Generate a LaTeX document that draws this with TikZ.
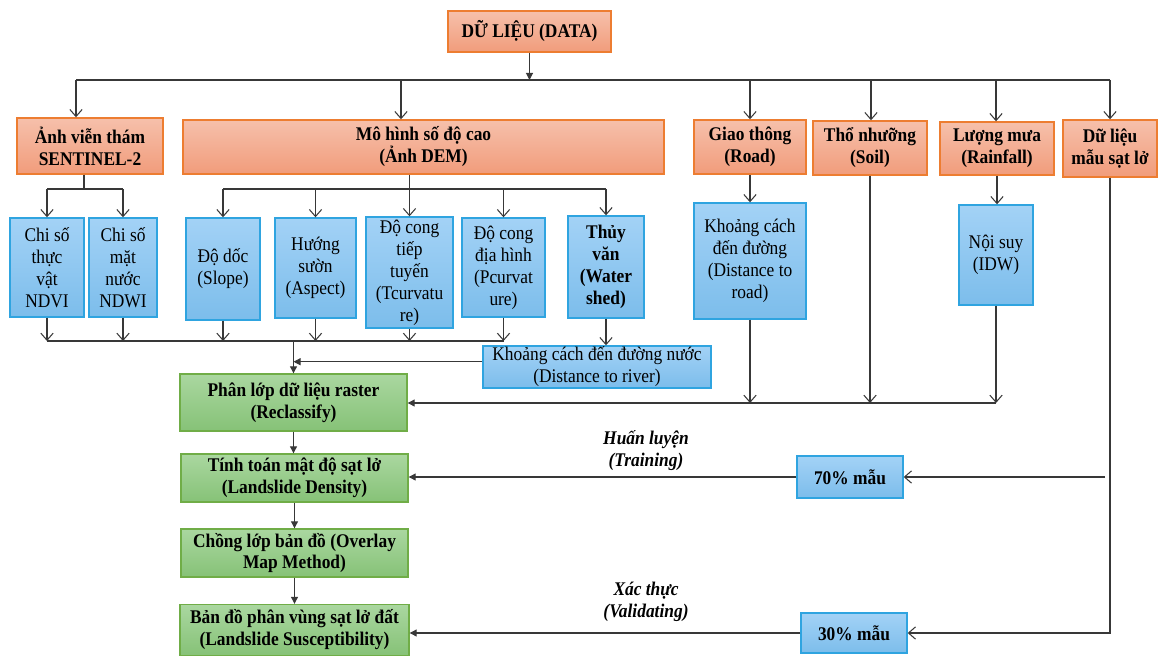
\documentclass[tikz,border=0pt]{standalone}
\usepackage{fontspec}
\setmainfont{Liberation Serif}[FakeStretch=0.9]
\usetikzlibrary{arrows.meta}

\definecolor{orangeline}{HTML}{ED7D31}
\definecolor{orangetop}{HTML}{F6C0AB}
\definecolor{orangebot}{HTML}{F19C7B}
\definecolor{blueline}{HTML}{2FA4E0}
\definecolor{bluetop}{HTML}{A3D2F6}
\definecolor{bluebot}{HTML}{7CBDEB}
\definecolor{greenline}{HTML}{70AD47}
\definecolor{greentop}{HTML}{AAD7A0}
\definecolor{greenbot}{HTML}{86C277}

\begin{document}
\begin{tikzpicture}[x=0.02cm,y=-0.02cm,
    font=\fontsize{11}{12.5}\selectfont,
    every node/.style={align=center,inner sep=0pt,line width=0.8pt},
    orangebox/.style={draw=orangeline,top color=orangetop,bottom color=orangebot,font=\fontsize{11}{12.5}\selectfont\bfseries},
    bluebox/.style={draw=blueline,top color=bluetop,bottom color=bluebot},
    greenbox/.style={draw=greenline,top color=greentop,bottom color=greenbot,font=\fontsize{11}{12.5}\selectfont\bfseries,minimum width=4.54cm},
    lbl/.style={font=\fontsize{11}{12.5}\selectfont\bfseries\itshape},
    line/.style={draw=black!78,line width=0.6pt},
    open/.style={-{Straight Barb[length=4pt,width=7pt]}},
    filltip/.style={-{Triangle[length=4pt,width=4pt]}}]
    \useasboundingbox (0,0) rectangle (1158,655);

    % top level
    \node[orangebox,minimum width=3.26cm,minimum height=0.82cm] (data) at (529.5,31.5) {DỮ LIỆU (DATA)};
    \node[orangebox,minimum width=2.92cm,minimum height=1.12cm] (sentinel) at (90,146) {Ảnh viễn thám\\SENTINEL-2};
    \node[orangebox,minimum width=9.62cm,minimum height=1.08cm] (dem) at (423.5,147) {Mô hình số độ cao\\(Ảnh DEM)};
    \node[orangebox,minimum width=2.24cm,minimum height=1.08cm] (road) at (750,147) {Giao thông\\(Road)};
    \node[orangebox,minimum width=2.28cm,minimum height=1.08cm] (soil) at (870,148) {Thổ nhưỡng\\(Soil)};
    \node[orangebox,minimum width=2.28cm,minimum height=1.06cm] (rain) at (997,148.5) {Lượng mưa\\(Rainfall)};
    \node[orangebox,minimum width=1.88cm,minimum height=1.14cm] (sample) at (1110,148.5) {Dữ liệu\\mẫu sạt lở};

    % second level
    \node[bluebox,minimum width=1.48cm,minimum height=1.98cm] (ndvi) at (47,267.5) {Chi số\\thực\\vật\\NDVI};
    \node[bluebox,minimum width=1.36cm,minimum height=1.98cm] (ndwi) at (123,267.5) {Chi số\\mặt\\nước\\NDWI};
    \node[bluebox,minimum width=1.48cm,minimum height=2.04cm] (slope) at (223,269) {Độ dốc\\(Slope)};
    \node[bluebox,minimum width=1.62cm,minimum height=2.00cm] (aspect) at (315.5,268) {Hướng\\sườn\\(Aspect)};
    \node[bluebox,minimum width=1.74cm,minimum height=2.22cm] (tcurv) at (409.5,272.5) {Độ cong\\tiếp\\tuyến\\(Tcurvatu\\re)};
    \node[bluebox,minimum width=1.66cm,minimum height=1.98cm] (pcurv) at (503.5,267.5) {Độ cong\\địa hình\\(Pcurvat\\ure)};
    \node[bluebox,minimum width=1.52cm,minimum height=2.04cm,font=\fontsize{11}{12.5}\selectfont\bfseries] (water) at (606,267) {Thủy\\văn\\(Water\\shed)};
    \node[bluebox,minimum width=4.56cm,minimum height=0.84cm] (river) at (597,367) {Khoảng cách đến đường nước\\(Distance to river)};
    \node[bluebox,minimum width=2.24cm,minimum height=2.32cm] (roaddist) at (750,261) {Khoảng cách\\đến đường\\(Distance to\\road)};
    \node[bluebox,minimum width=1.48cm,minimum height=2.00cm] (idw) at (996,255) {Nội suy\\(IDW)};

    % processing chain
    \node[greenbox,minimum height=1.14cm] (reclass) at (293.5,402.5) {Phân lớp dữ liệu raster\\(Reclassify)};
    \node[greenbox,minimum height=0.96cm] (density) at (294.5,478) {Tính toán mật độ sạt lở\\(Landslide Density)};
    \node[greenbox,minimum height=0.96cm] (overlay) at (294.5,553) {Chồng lớp bản đồ (Overlay\\Map Method)};
    \node[greenbox,minimum width=4.58cm,minimum height=1.02cm] (suscept) at (294.5,630) {Bản đồ phân vùng sạt lở đất\\(Landslide Susceptibility)};
    \node[bluebox,minimum width=2.12cm,minimum height=0.84cm,font=\fontsize{11}{12.5}\selectfont\bfseries] (p70) at (850,477) {70\% mẫu};
    \node[bluebox,minimum width=2.12cm,minimum height=0.80cm,font=\fontsize{11}{12.5}\selectfont\bfseries] (p30) at (854,633) {30\% mẫu};
    \node[lbl] (train) at (646,451) {Huấn luyện\\(Training)};
    \node[lbl] (valid) at (646,602) {Xác thực\\(Validating)};

    % data bus
    \coordinate (bus) at (76,80);
    \draw[line,filltip] (data.south) -- (data.south |- bus);
    \draw[line] (bus) -- (sample.north |- bus);
    \foreach \x/\n in {76/sentinel,401/dem,750/road,871/soil,996/rain,1110/sample}{
        \path (\x,80) coordinate (t);
        \draw[line,open] (t) -- (t |- \n.north);
    }

    % sentinel and dem branches
    \coordinate (sb) at (84,189);
    \draw[line] (sentinel.south -| sb) -- (sb);
    \draw[line] (ndvi.north |- sb) -- (ndwi.north |- sb);
    \draw[line] (slope.north |- sb) -- (water.north |- sb);
    \foreach \n in {ndvi,ndwi,slope,aspect,pcurv,water}
        \draw[line,open] (\n.north |- sb) -- (\n.north);
    \draw[line,open] (dem.south -| tcurv.north) -- (tcurv.north);

    % collector to reclassify
    \coordinate (cl) at (0,341);
    \foreach \n in {ndvi,ndwi,slope,aspect,tcurv,pcurv}
        \draw[line,open] (\n.south) -- (\n.south |- cl);
    \draw[line] (ndvi.south |- cl) -- (pcurv.south |- cl);
    \draw[line,filltip] (reclass.north |- cl) -- (reclass.north);
    \draw[line,open] (water.south) -- (water.south |- river.north);
    \draw[line,filltip] ([yshift=3pt]river.west) -- ([yshift=3pt]river.west -| reclass.north);

    % road, soil, rainfall
    \coordinate (cr) at (0,403);
    \draw[line,open] (road.south) -- (roaddist.north);
    \draw[line,open] (rain.south) -- (rain.south |- idw.north);
    \foreach \n in {roaddist,soil,idw}
        \draw[line,open] (\n.south) -- (\n.south |- cr);
    \draw[line,filltip] (idw.south |- cr) -- (reclass.east |- cr);

    % chain
    \draw[line,filltip] (reclass.south) -- (reclass.south |- density.north);
    \draw[line,filltip] (density.south) -- (density.south |- overlay.north);
    \draw[line,filltip] (overlay.south) -- (overlay.south |- suscept.north);

    % samples
    \coordinate (tr) at (1105,477);
    \draw[line,open] (tr) -- (p70.east);
    \draw[line,open] (sample.south) -- (sample.south |- p30.east) -- (p30.east);
    \draw[line,filltip] (p70.west) -- (density.east |- p70.west);
    \draw[line,filltip] (p30.west) -- (suscept.east |- p30.west);
\end{tikzpicture}
\end{document}
